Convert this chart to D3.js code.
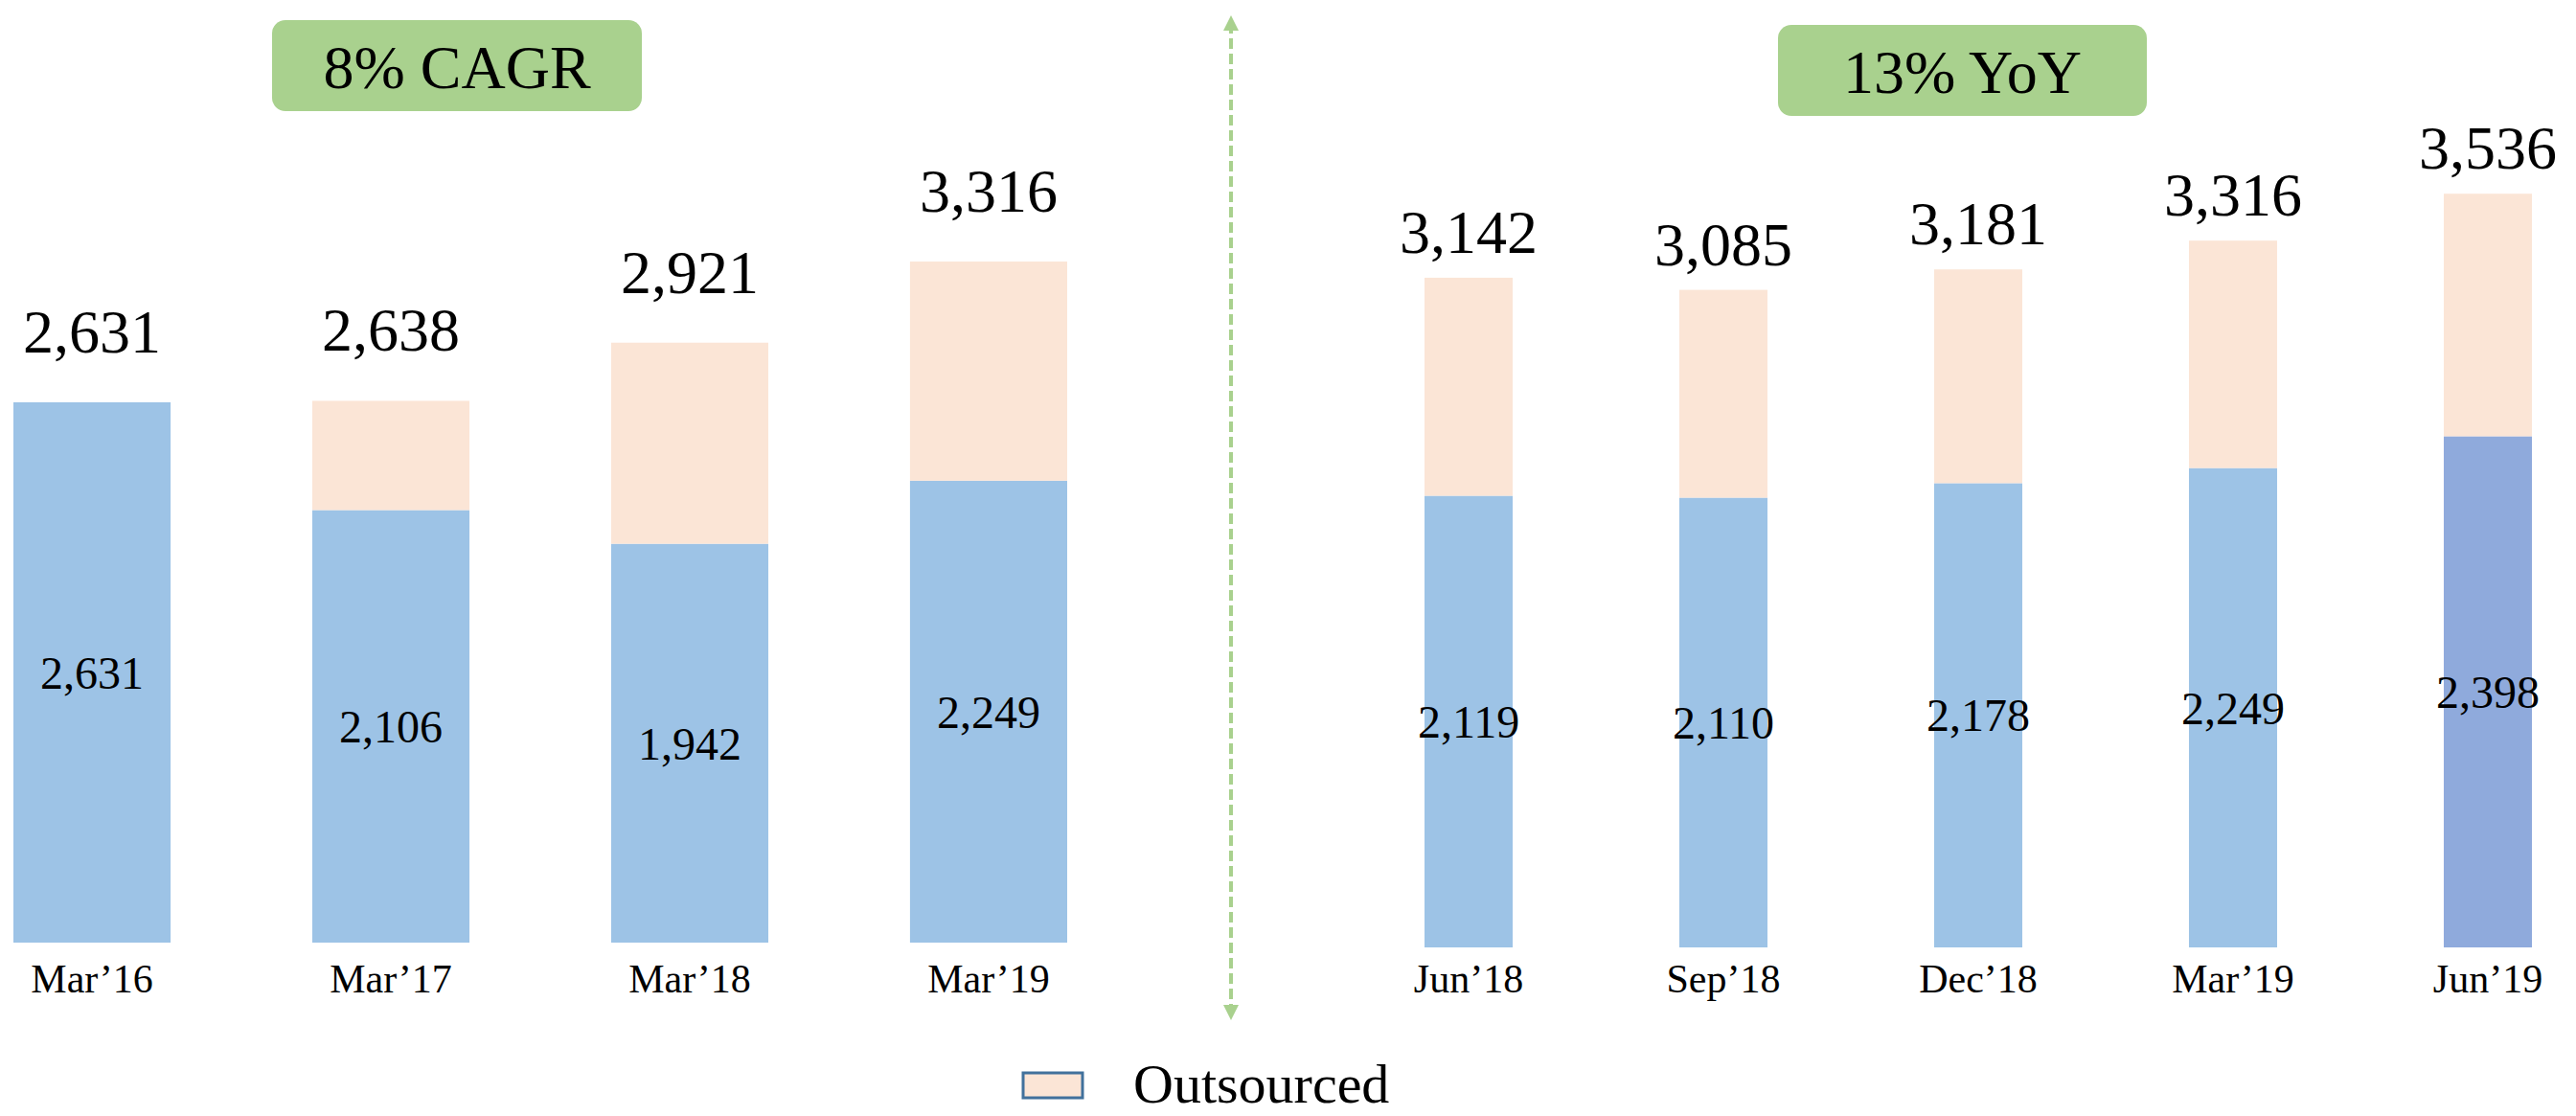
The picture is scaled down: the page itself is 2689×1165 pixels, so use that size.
<!DOCTYPE html>
<meta charset="utf-8">
<head>
<style>
  body { margin: 0; background: #fff; }
  .base { fill: #9dc3e6; }
  .out { fill: #fbe5d6; }
  .latest { fill: #8faadc; }
</style>
</head>
<body>
<script src="https://d3js.org/d3.v7.min.js"></script>
<script>
// annual figures (left panel)
var annualCats = ["Mar\u201916", "Mar\u201917", "Mar\u201918", "Mar\u201919"];
var annualTotal = [2631, 2638, 2921, 3316];
var annualBase = [2631, 2106, 1942, 2249];

// quarterly figures (right panel)
var quarterCats = ["Jun\u201918", "Sep\u201918", "Dec\u201918", "Mar\u201919", "Jun\u201919"];
var quarterTotal = [3142, 3085, 3181, 3316, 3536];
var quarterBase = [2119, 2110, 2178, 2249, 2398];

var growthLabels = ["8% CAGR", "13% YoY"];
var legendLabel = "Outsourced";

var W = 2689, H = 1165;
var FONT = "'Liberation Serif', 'Times New Roman', serif";
var fmt = d3.format(",");

var svg = d3.select("body").append("svg")
    .attr("width", W)
    .attr("height", H);

function rows(cats, total, base) {
  return cats.map(function(c, i) {
    return { cat: c, base: base[i], out: total[i] - base[i], total: total[i], last: i === cats.length - 1 };
  });
}

function panel(data, opt) {
  var x = d3.scaleBand()
      .domain(data.map(function(d) { return d.cat; }))
      .range(opt.xr)
      .paddingInner(opt.pad)
      .paddingOuter(0);

  var y = d3.scaleLinear()
      .domain([0, 4000])
      .range([opt.base, opt.base - 4000 * opt.k]);

  var series = d3.stack().keys(["base", "out"])(data);

  var g = svg.append("g");

  g.selectAll("g.layer")
      .data(series)
    .enter().append("g")
      .attr("class", "layer")
    .selectAll("rect")
      .data(function(s) { return s.map(function(p) { p.key = s.key; return p; }); })
    .enter().append("rect")
      .attr("class", function(p) {
        if (p.key === "out") return "out";
        return (opt.highlightLast && p.data.last) ? "latest" : "base";
      })
      .attr("x", function(p) { return x(p.data.cat); })
      .attr("width", x.bandwidth())
      .attr("y", function(p) { return y(p[1]); })
      .attr("height", function(p) { return y(p[0]) - y(p[1]); });

  // totals above bars
  g.selectAll("text.total")
      .data(data)
    .enter().append("text")
      .attr("class", "total")
      .attr("x", function(d) { return x(d.cat) + x.bandwidth() / 2; })
      .attr("y", function(d) { return y(d.total) - opt.gap; })
      .attr("text-anchor", "middle")
      .style("font-family", FONT)
      .style("font-size", "64px")
      .attr("fill", "#000")
      .text(function(d) { return fmt(d.total); });

  // base values inside blue part
  g.selectAll("text.inner")
      .data(data)
    .enter().append("text")
      .attr("class", "inner")
      .attr("x", function(d) { return x(d.cat) + x.bandwidth() / 2; })
      .attr("y", function(d) { return (y(d.base) + y(0)) / 2; })
      .attr("dy", "0.35em")
      .attr("text-anchor", "middle")
      .style("font-family", FONT)
      .style("font-size", "48px")
      .attr("fill", "#000")
      .text(function(d) { return fmt(d.base); });

  // category labels
  var axis = d3.axisBottom(x).tickSize(0).tickPadding(0);
  var ax = g.append("g")
      .attr("transform", "translate(0," + opt.labelY + ")")
      .call(axis);
  ax.select(".domain").remove();
  ax.selectAll("text")
      .attr("y", 0)
      .attr("dy", 0)
      .style("font-family", FONT)
      .style("font-size", "42px")
      .attr("fill", "#000");

  // growth badge
  var b = svg.append("g").attr("transform", "translate(" + opt.badge[0] + "," + opt.badge[1] + ")");
  b.append("rect")
      .attr("width", opt.badge[2])
      .attr("height", 95)
      .attr("rx", 14)
      .attr("fill", "#a9d18e");
  b.append("text")
      .attr("x", opt.badge[2] / 2)
      .attr("y", 71)
      .attr("text-anchor", "middle")
      .style("font-family", FONT)
      .style("font-size", "64px")
      .attr("fill", "#000")
      .text(opt.badgeText);
}

panel(rows(annualCats, annualTotal, annualBase), {
  xr: [14, 1114], pad: 0.474, base: 984, k: 0.2144, gap: 52, labelY: 1036,
  badge: [284, 21, 386], badgeText: growthLabels[0], highlightLast: false
});

panel(rows(quarterCats, quarterTotal, quarterBase), {
  xr: [1487, 2643], pad: 0.654, base: 989, k: 0.2225, gap: 26, labelY: 1036,
  badge: [1856, 26, 385], badgeText: growthLabels[1], highlightLast: true
});

// dashed divider with arrows
var defs = svg.append("defs");
defs.append("marker")
    .attr("id", "arr")
    .attr("viewBox", "0 0 10 10")
    .attr("refX", 5).attr("refY", 5)
    .attr("markerWidth", 4).attr("markerHeight", 4)
    .attr("markerUnits", "strokeWidth")
    .attr("orient", "auto-start-reverse")
  .append("path")
    .attr("d", "M0,0 L10,5 L0,10 Z")
    .attr("fill", "#a9d18e");

svg.append("line")
    .attr("x1", 1285).attr("x2", 1285)
    .attr("y1", 24).attr("y2", 1057)
    .attr("stroke", "#a9d18e")
    .attr("stroke-width", 4)
    .attr("stroke-dasharray", "11,5")
    .attr("marker-start", "url(#arr)")
    .attr("marker-end", "url(#arr)");

// legend
var lg = svg.append("g").attr("transform", "translate(1068,1120)");
lg.append("rect")
    .attr("width", 62)
    .attr("height", 26)
    .attr("fill", "#fbe5d6")
    .attr("stroke", "#41719c")
    .attr("stroke-width", 3);
lg.append("text")
    .attr("x", 115)
    .attr("y", 31)
    .style("font-family", FONT)
    .style("font-size", "58px")
    .attr("fill", "#000")
    .text(legendLabel);
</script>
</body>
